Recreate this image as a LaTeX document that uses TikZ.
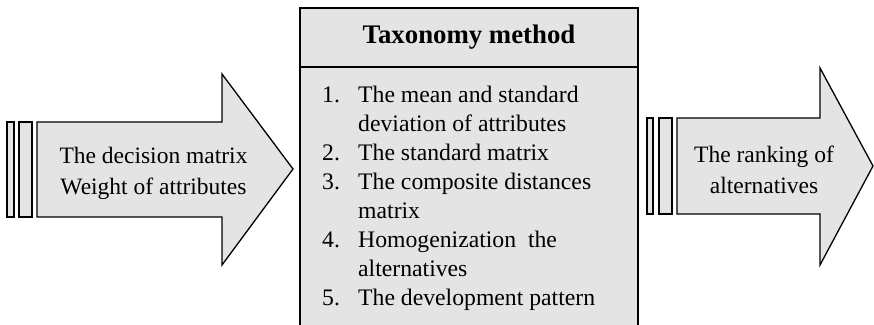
\documentclass[tikz,border=0pt]{standalone}
\usepackage{fontspec}
\setmainfont{Liberation Serif}
\definecolor{boxfill}{RGB}{228,228,228}
\begin{document}
\begin{tikzpicture}[x=1pt,y=-1pt,
  shapeline/.style={draw=black,line width=1.3pt,fill=boxfill,line join=miter},
  txt/.style={anchor=base,inner sep=0pt,font=\fontsize{23.5}{28}\selectfont},
  item/.style={anchor=base west,inner sep=0pt,font=\fontsize{23.7}{28}\selectfont}]
\useasboundingbox (0,0) rectangle (874,324);
\begin{scope}
\clip (0,0) rectangle (874,324);
% left arrow
\draw[shapeline] (7,122) rectangle (14,217);
\draw[shapeline] (19,122) rectangle (32,217);
\draw[shapeline] (37,122) -- (222,122) -- (222,74) -- (293,169) -- (222,265) -- (222,217) -- (37,217) -- cycle;
\node[txt] (l1) at (153.5,163) {The decision matrix};
\node[txt] (l2) at (153.5,194) {Weight of attributes};
% middle box
\draw[shapeline] (300,8) rectangle (638,340);
\draw[draw=black,line width=1.3pt] (300,67) -- (638,67);
\node[txt,font=\fontsize{26.8}{30}\selectfont\bfseries] (title) at (469,43) {Taxonomy method};
\foreach \n/\y/\t in {1/102/{The mean and standard},2/160/{The standard matrix},3/189/{The composite distances},4/247/{Homogenization\ \ the},5/305/{The development pattern}}{
  \node[item] (n\n) at (322,\y) {\n.};
  \node[item] (t\n) at (358,\y) {\t};
}
\node[item] (t1b) at (358,131) {deviation of attributes};
\node[item] (t3b) at (358,218) {matrix};
\node[item] (t4b) at (358,276) {alternatives};
% right arrow
\draw[shapeline] (647,118) rectangle (653,214);
\draw[shapeline] (659,118) rectangle (672,214);
\draw[shapeline] (677,118) -- (820,118) -- (820,68) -- (873,166) -- (820,265) -- (820,214) -- (677,214) -- cycle;
\node[txt] (r1) at (764,162) {The ranking of};
\node[txt] (r2) at (764,193) {alternatives};
\end{scope}
\end{tikzpicture}
\end{document}
